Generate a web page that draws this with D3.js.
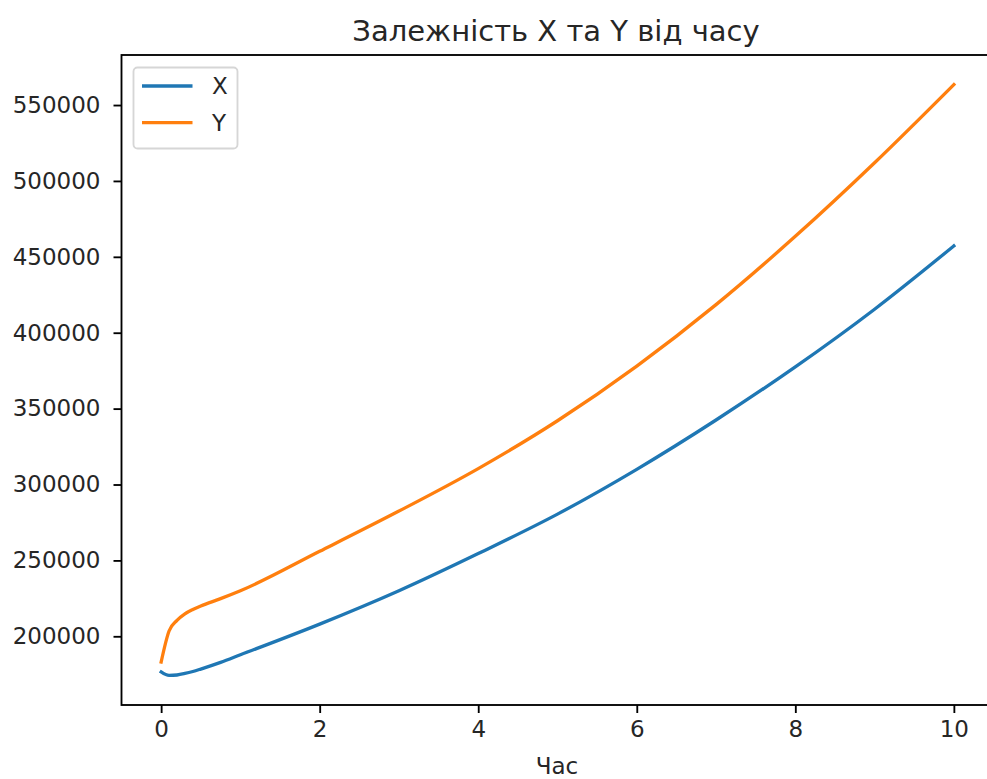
<!DOCTYPE html>
<html>
<head>
<meta charset="utf-8">
<script src="https://cdn.jsdelivr.net/npm/d3@7/dist/d3.min.js"></script>
<style>
  html, body { margin: 0; padding: 0; background: #fff; }
  svg { display: block; font-family: "DejaVu Sans", sans-serif; }
</style>
</head>
<body>
<svg id="chart" width="987" height="779"></svg>
<script>
// ---- data ----
const time   = [0, 0.1, 0.2, 0.3, 0.4, 0.5, 0.75, 1, 2, 3, 4, 5, 6, 7, 8, 9, 10];
const seriesX = [176500, 174200, 174500, 175500, 176800, 178400, 182800, 187800, 208000, 230000, 254500, 280500, 310000, 342500, 377500, 415500, 457200];
const seriesY = [183000, 203500, 210500, 214800, 217700, 220000, 224800, 230000, 256000, 282500, 310500, 342000, 378000, 418500, 463500, 512000, 563500];
const xTicks = [0, 2, 4, 6, 8, 10];
const yTicks = [200000, 250000, 300000, 350000, 400000, 450000, 500000, 550000];
const seriesNames = ["X", "Y"];
const seriesColors = ["#1f77b4", "#ff7f0e"];
const titleText = "Залежність X та Y від часу";
const xLabelText = "Час";

// ---- layout ----
const svg = d3.select("#chart");
const mLeft = 121.5, mTop = 55, mBottom = 705, mRight = 993.5;

const x = d3.scaleLinear().domain([-0.5, 10.5]).range([mLeft, mRight]);
const allVals = seriesX.concat(seriesY);
const yMin = d3.min(allVals), yMax = d3.max(allVals);
const pad = (yMax - yMin) * 0.05;
const y = d3.scaleLinear().domain([yMin - pad, yMax + pad]).range([mBottom, mTop]);

const fontTick = 23;

// lines
const data = [seriesX, seriesY];
const line = d3.line()
  .x((d, i) => x(time[i]))
  .y(d => y(d))
  .curve(d3.curveMonotoneX);

svg.append("g").selectAll("path")
  .data(data)
  .join("path")
  .attr("d", d => line(d))
  .attr("fill", "none")
  .attr("stroke", (d, i) => seriesColors[i])
  .attr("stroke-width", 3.3)
  .attr("stroke-linecap", "square");

// axes
const xAxis = d3.axisBottom(x).tickValues(xTicks).tickFormat(d3.format("d"))
  .tickSizeInner(8).tickSizeOuter(0).tickPadding(8);
const yAxis = d3.axisLeft(y).tickValues(yTicks).tickFormat(d3.format("d"))
  .tickSizeInner(8).tickSizeOuter(0).tickPadding(13);

const gx = svg.append("g").attr("transform", `translate(0,${mBottom})`).call(xAxis);
const gy = svg.append("g").attr("transform", `translate(${mLeft},0)`).call(yAxis);
[gx, gy].forEach(g => {
  g.select(".domain").remove();
  g.selectAll(".tick line").attr("stroke", "#000").attr("stroke-width", 1.85);
  g.selectAll(".tick text").attr("fill", "#262626")
    .style("font-size", fontTick + "px").style("font-family", "DejaVu Sans");
});

// spines (frame)
svg.append("rect")
  .attr("x", mLeft).attr("y", mTop)
  .attr("width", mRight - mLeft).attr("height", mBottom - mTop)
  .attr("fill", "none").attr("stroke", "#000").attr("stroke-width", 1.85);

// title
svg.append("text")
  .attr("x", 556).attr("y", 41)
  .attr("text-anchor", "middle")
  .attr("fill", "#262626")
  .style("font-size", "29px")
  .text(titleText);

// x label
svg.append("text")
  .attr("x", 557).attr("y", 774)
  .attr("text-anchor", "middle")
  .attr("fill", "#262626")
  .style("font-size", fontTick + "px")
  .text(xLabelText);

// legend
const lg = svg.append("g");
lg.append("rect")
  .attr("x", 133.5).attr("y", 67.5)
  .attr("width", 104).attr("height", 81)
  .attr("rx", 4).attr("ry", 4)
  .attr("fill", "#fff").attr("fill-opacity", 0.8)
  .attr("stroke", "#d6d6d6").attr("stroke-width", 1.85);
seriesNames.forEach((name, i) => {
  const ly = 86 + i * 36.7;
  lg.append("line")
    .attr("x1", 142).attr("x2", 192.5)
    .attr("y1", ly).attr("y2", ly)
    .attr("stroke", seriesColors[i]).attr("stroke-width", 3.3);
  lg.append("text")
    .attr("x", 212).attr("y", ly + 8.4)
    .attr("fill", "#262626")
    .style("font-size", fontTick + "px")
    .text(name);
});
</script>
</body>
</html>
